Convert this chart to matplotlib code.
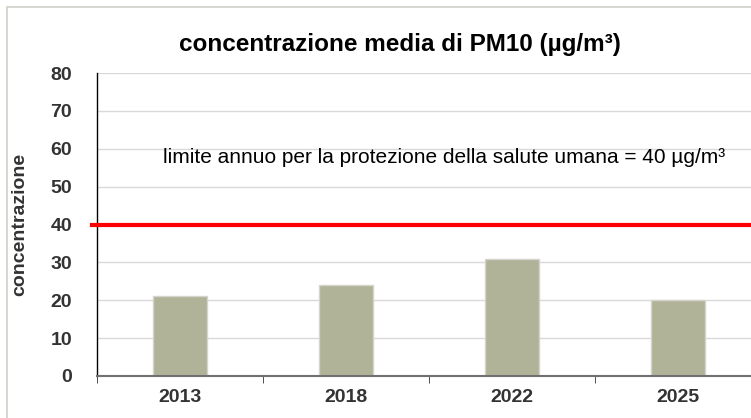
import matplotlib.pyplot as plt
from matplotlib.patches import Rectangle

# dati
anni = ['2013', '2018', '2022', '2025']
concentrazione = [21, 24, 31, 20]
limite = 40
yticks = [0, 10, 20, 30, 40, 50, 60, 70, 80]

plt.rcParams['font.family'] = ['Liberation Sans', 'DejaVu Sans']

W, H = 751, 418
fig = plt.figure(figsize=(W / 100, H / 100), dpi=100)

# bordo esterno del grafico
fig.patches.append(Rectangle((7 / W, -0.05), 1.1, 1 - 7 / H + 0.05, transform=fig.transFigure,
                             fill=False, edgecolor='#d0d0c8', linewidth=1.2))

# area del grafico (il lato destro esce dall'immagine)
left, right = 97 / W, 761 / W
bottom, top = 1 - 376 / H, 1 - 73 / H
ax = fig.add_axes([left, bottom, right - left, top - bottom])

x = range(len(anni))
ax.bar(x, concentrazione, width=0.32, color='#b1b399', edgecolor='#d4d4cc', linewidth=1, zorder=2)
ax.axhline(limite, xmin=-0.008, color='#ff0000', linewidth=3, zorder=3, clip_on=False)

ax.set_xlim(-0.5, len(anni) - 0.5)
ax.set_ylim(0, 80)
ax.set_yticks(yticks)
ax.set_xticks(list(x))
ax.set_xticklabels(anni, fontsize=14, fontweight='bold', color='#333333')
ax.set_yticklabels([str(v) for v in yticks], fontsize=14, fontweight='bold', color='#333333')
ax.set_xticks([i - 0.5 for i in x], minor=True)
ax.tick_params(axis='x', which='major', length=0, pad=9)
ax.tick_params(axis='x', which='minor', length=5, direction='out', color='#333333')
ax.tick_params(axis='y', length=0, pad=18)

ax.grid(axis='y', color='#d9d9d9', linewidth=1, zorder=0)
ax.set_axisbelow(True)
for s in ['top', 'right']:
    ax.spines[s].set_visible(False)
ax.spines['left'].set_color('black')
ax.spines['left'].set_linewidth(1)
ax.spines['bottom'].set_color('#707070')
ax.spines['bottom'].set_linewidth(1.5)

ax.set_ylabel('concentrazione', fontsize=14, fontweight='bold', color='#333333')
ax.yaxis.set_label_coords((20 - 97) / 664, 0.5)
ax.yaxis.label.set_va('center')

fig.text(400 / W, 1 - 45 / H, 'concentrazione media di PM10 (µg/m³)', ha='center', va='center',
         fontsize=17.5, fontweight='bold', color='black')
ax.text(-0.5 + 4 * (163 - 97) / 664, 57.8, 'limite annuo per la protezione della salute umana = 40 µg/m³',
        ha='left', va='center', fontsize=15, color='black')

fig.savefig('out.png', dpi=100)
